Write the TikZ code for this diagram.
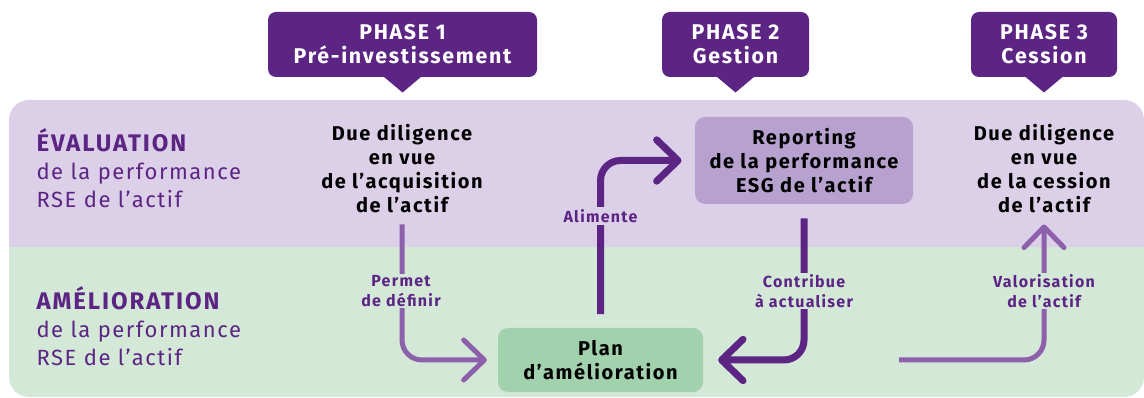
\documentclass[tikz,border=0pt]{standalone}
\usepackage{fontspec}
\setmainfont{Fira Sans}[LetterSpace=7,BoldFeatures={LetterSpace=8}]
\usetikzlibrary{arrows.meta}
\definecolor{phaseviolet}{RGB}{92,36,131}
\definecolor{lightviolet}{RGB}{140,96,170}
\definecolor{bandviolet}{RGB}{220,208,233}
\definecolor{bandgreen}{RGB}{212,232,216}
\definecolor{reportfill}{RGB}{183,162,207}
\definecolor{planfill}{RGB}{162,209,174}
\tikzset{every picture/.style={line width=0.75pt}}

\begin{document}
\begin{tikzpicture}[x=0.75pt,y=0.75pt,yscale=-1,xscale=1,
  phasebox/.style={fill=phaseviolet,text=white,rounded corners=6pt,align=center,inner sep=0pt,
    font=\bfseries\fontsize{16}{18}\selectfont,minimum height=48.75pt},
  stagebox/.style={rounded corners=7.5pt,align=center,inner sep=0pt,font=\bfseries\fontsize{15}{18}\selectfont},
  duetext/.style={align=center,inner sep=1pt,font=\bfseries\fontsize{15}{18}\selectfont},
  bandtitle/.style={anchor=base west,inner sep=0pt,text=phaseviolet,font=\bfseries\fontsize{18}{21}\selectfont},
  bandsub/.style={anchor=base west,inner sep=0pt,text=phaseviolet,font=\fontsize{16.5}{21}\selectfont},
  lbl/.style={align=center,inner sep=1.5pt,text=phaseviolet,font=\bfseries\fontsize{12}{14.5}\selectfont},
  darkarrow/.style={draw=phaseviolet,line width=5.25pt,rounded corners=15pt,
    -{Straight Barb[length=16pt,width=31pt,round]}},
  lightarrow/.style={draw=lightviolet,line width=3.75pt,rounded corners=15pt,
    -{Straight Barb[length=15.5pt,width=30pt,round]}}]
\useasboundingbox (0,0) rectangle (1144,398);

% bands
\begin{scope}
\clip[rounded corners=15pt] (9,100) rectangle (1144,397);
\fill[bandviolet] (9,100) rectangle (1144,247);
\fill[bandgreen] (9,247) rectangle (1144,397);
\end{scope}

% phases
\node[phasebox,minimum width=201.75pt] (ph1) at (402.5,44.5) {PHASE 1\\Pré-investissement};
\node[phasebox,minimum width=110.25pt] (ph2) at (735.5,44.5) {PHASE 2\\Gestion};
\node[phasebox,minimum width=109.5pt] (ph3) at (1044,44.5) {PHASE 3\\Cession};
\fill[phaseviolet] (ph1.south) ++(-19,-1) -- ++(19,16) -- ++(19,-16) -- cycle;
\fill[phaseviolet] (ph2.south) ++(-19,-1) -- ++(19,16) -- ++(19,-16) -- cycle;
\fill[phaseviolet] (ph3.south) ++(-19,-1) -- ++(19,16) -- ++(19,-16) -- cycle;

% band titles
\node[bandtitle] (evaltitle) at (36,152) {ÉVALUATION};
\node[bandsub] (evalsub1) at (36,180) {de la performance};
\node[bandsub] (evalsub2) at (36,208) {RSE de l’actif};
\node[bandtitle] (amtitle) at (36,310) {AMÉLIORATION};
\node[bandsub] (amsub1) at (36,338) {de la performance};
\node[bandsub] (amsub2) at (36,366) {RSE de l’actif};

% stages
\node[duetext] (due1) at (402,169) {Due diligence\\en vue\\de l’acquisition\\de l’actif};
\node[duetext] (due2) at (1044,169) {Due diligence\\en vue\\de la cession\\de l’actif};
\node[stagebox,fill=reportfill,minimum width=163.5pt,minimum height=65.25pt] (report) at (804,160.5) {Reporting\\de la performance\\ESG de l’actif};
\node[stagebox,fill=planfill,minimum width=153.75pt,minimum height=48pt] (plan) at (600.5,360) {Plan\\d’amélioration};
\coordinate (valstart) at (899,360);

% connectors
\draw[lightarrow,shorten <=7pt,shorten >=8pt] (due1.south) |- (plan.west);
\draw[darkarrow,shorten <=10pt,shorten >=9.75pt] (plan.north) |- (report.west);
\draw[darkarrow,shorten <=10.5pt,shorten >=11pt] (report.south) |- (plan.east);
\draw[lightarrow,shorten >=7pt] (valstart) -| (due2.south);

% connector labels
\node[lbl,fill=bandgreen] (permet) at (401,291) {Permet\\de définir};
\node[lbl,fill=bandviolet] (alim) at (600.5,216) {Alimente};
\node[lbl,fill=bandgreen] (contrib) at (804,291) {Contribue\\à actualiser};
\node[lbl,fill=bandgreen] (valor) at (1044,291) {Valorisation\\de l’actif};
\end{tikzpicture}
\end{document}
